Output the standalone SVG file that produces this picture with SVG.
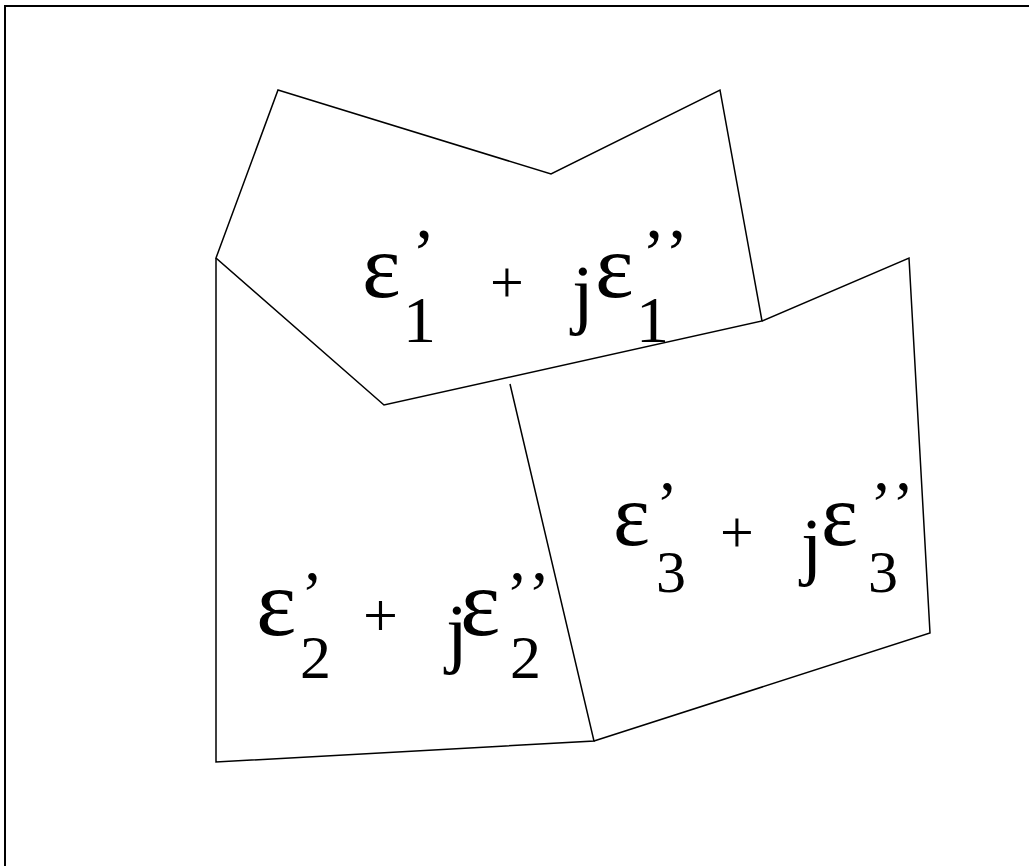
<svg xmlns="http://www.w3.org/2000/svg" width="1029" height="866" viewBox="0 0 1029 866">
<style>
.edge{fill:none;stroke:#000;stroke-width:1.5;stroke-linejoin:miter}
.lbl{font-family:"Liberation Serif","Times New Roman",serif;fill:#000}
.q{letter-spacing:5px}
</style>
<rect x="0" y="0" width="1029" height="866" fill="#fff"/>
<rect x="5" y="6" width="1050" height="890" fill="none" stroke="#000" stroke-width="2"/>
<g id="connectors">
<polygon class="edge" points="278,90 551,174 720,90 762,321 384,405 216,258"/>
<polyline class="edge" points="216,258 216,762 594,741 510,384"/>
<polyline class="edge" points="762,321 909,258 930,633 594,741"/>
</g>
<g id="region1">
<text class="lbl"><tspan font-size="92" x="362" y="297">ε</tspan><tspan font-size="70" x="412" y="277">’</tspan><tspan font-size="66" x="403" y="342">1</tspan><tspan font-size="60" x="490" y="302">+</tspan><tspan font-size="78" x="572" y="319">j</tspan><tspan font-size="92" x="595" y="297">ε</tspan><tspan class="q" font-size="70" x="642" y="277">’’</tspan><tspan font-size="66" x="636" y="342">1</tspan></text>
</g>
<g id="region2">
<text class="lbl"><tspan font-size="96" x="256" y="635">ε</tspan><tspan font-size="66" x="301" y="616">’</tspan><tspan font-size="62" x="300" y="678">2</tspan><tspan font-size="62" x="363" y="636">+</tspan><tspan font-size="78" x="446" y="658">j</tspan><tspan font-size="96" x="460" y="635">ε</tspan><tspan class="q" font-size="66" x="506" y="616">’’</tspan><tspan font-size="62" x="510" y="678">2</tspan></text>
</g>
<g id="region3">
<text class="lbl"><tspan font-size="88" x="613" y="545">ε</tspan><tspan font-size="66" x="656" y="526">’</tspan><tspan font-size="60" x="656" y="592">3</tspan><tspan font-size="60" x="720" y="552">+</tspan><tspan font-size="76" x="801" y="571">j</tspan><tspan font-size="88" x="821" y="545">ε</tspan><tspan class="q" font-size="66" x="870" y="526">’’</tspan><tspan font-size="60" x="868" y="592">3</tspan></text>
</g>
</svg>
